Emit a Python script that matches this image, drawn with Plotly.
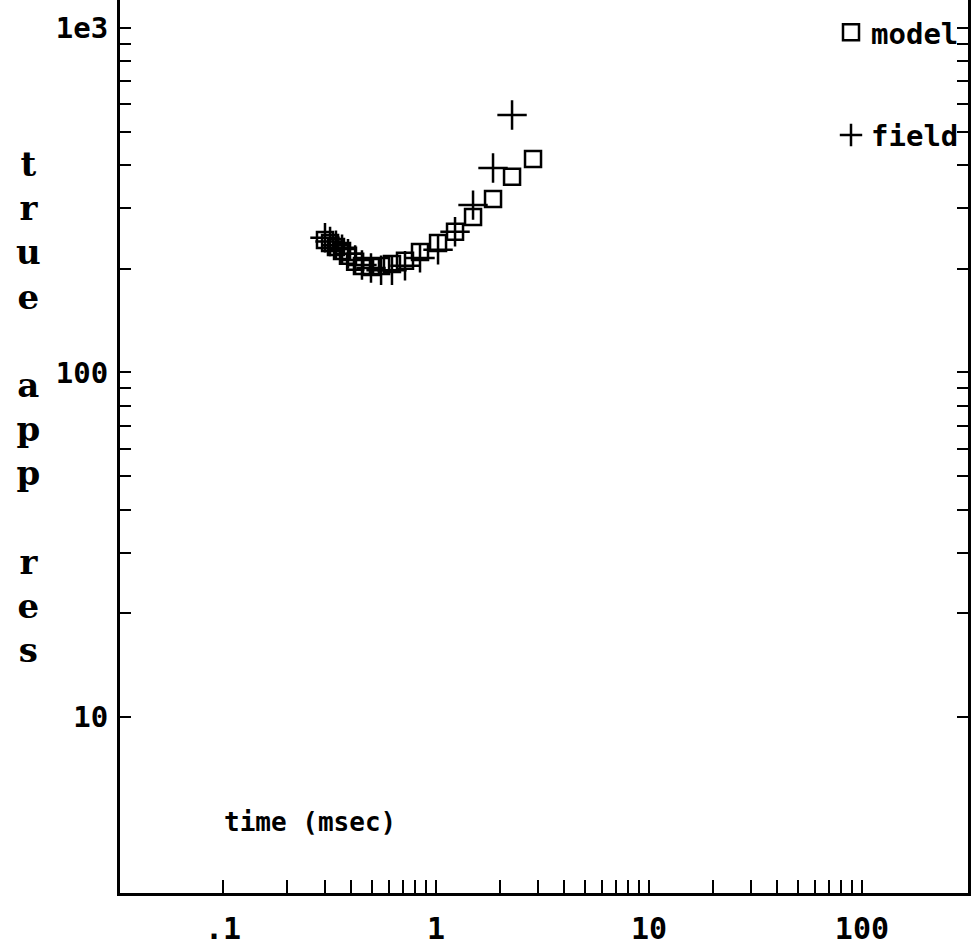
import plotly.graph_objects as go

# time gates (msec)
time_ms = [0.301, 0.318, 0.339, 0.362, 0.386, 0.417, 0.449, 0.495, 0.552,
           0.621, 0.715, 0.841, 1.022, 1.228, 1.492, 1.852, 2.275, 2.854]
# model apparent resistivity
model_res = [242.5, 237.6, 231.4, 225.3, 218.0, 209.4, 203.7, 202.3, 203.7,
             206.5, 210.8, 223.8, 237.6, 256.0, 282.7, 318.9, 369.5, 416.6]
# field apparent resistivity
field_res = [246, 240, 234, 228, 221, 212, 205, 201, 198,
             198, 204, 215, 227, 256, 306, 392, 559, 1238]

x_tickvals = [0.1, 0.2, 0.3, 0.4, 0.5, 0.6, 0.7, 0.8, 0.9,
              1, 2, 3, 4, 5, 6, 7, 8, 9,
              10, 20, 30, 40, 50, 60, 70, 80, 90, 100]
x_labels = {0.1: ".1", 1: "1", 10: "10", 100: "100"}
y_tickvals = [10, 20, 30, 40, 50, 60, 70, 80, 90,
              100, 200, 300, 400, 500, 600, 700, 800, 900, 1000]
y_labels = {10: "10", 100: "100", 1000: "1e3"}

mono = "DejaVu Sans Mono"

fig = go.Figure()
fig.add_trace(go.Scatter(
    x=time_ms, y=model_res, mode="markers", name="model",
    legendgroup="model", cliponaxis=False,
    marker=dict(symbol="square-open", size=16, color="black",
                line=dict(width=2.5, color="black")),
))
fig.add_trace(go.Scatter(
    x=time_ms, y=field_res, mode="markers", name="field",
    legendgroup="field", cliponaxis=False,
    marker=dict(symbol="cross-thin-open", size=21, color="black",
                line=dict(width=2.5, color="black")),
))

fig.update_layout(
    width=971, height=950,
    margin=dict(l=120, r=3, t=0, b=57, autoexpand=False),
    paper_bgcolor="white", plot_bgcolor="white",
    showlegend=True,
    legend=dict(x=1 - 4 / 848, y=1 - 7 / 893, xanchor="right", yanchor="top",
                bgcolor="rgba(0,0,0,0)", tracegroupgap=62,
                itemwidth=30,
                font=dict(family=mono, size=29, color="black", weight="bold")),
    xaxis=dict(
        type="log", range=[-1.484, 2.498], automargin=False,
        showgrid=False, zeroline=False,
        showline=True, linecolor="black", linewidth=3, mirror=False,
        ticks="inside", ticklen=13, tickwidth=2, tickcolor="black",
        tickvals=x_tickvals,
        ticktext=[x_labels.get(v, "") for v in x_tickvals],
        ticklabelstandoff=7,
        tickfont=dict(family=mono, size=30, color="black", weight="bold"),
    ),
    yaxis=dict(
        type="log", range=[0.489, 3.081], automargin=False,
        showgrid=False, zeroline=False,
        showline=True, linecolor="black", linewidth=3, mirror="ticks",
        ticks="inside", ticklen=11, tickwidth=2, tickcolor="black",
        tickvals=y_tickvals,
        ticktext=[y_labels.get(v, "") for v in y_tickvals],
        ticklabelstandoff=3,
        tickfont=dict(family=mono, size=29, color="black", weight="bold"),
    ),
)

fig.add_annotation(
    xref="paper", yref="paper", x=0.224, y=1 - 822 / 893,
    xanchor="center", yanchor="middle", showarrow=False,
    text="time (msec)",
    font=dict(family=mono, size=26, color="black", weight="bold"),
)
fig.add_annotation(
    xref="paper", yref="paper", x=(28 - 120) / 848, y=1 - 407 / 893,
    xanchor="center", yanchor="middle", showarrow=False,
    text="t<br>r<br>u<br>e<br> <br>a<br>p<br>p<br> <br>r<br>e<br>s",
    font=dict(family="DejaVu Serif", size=34, color="black", weight="bold"),
)

fig.write_html("out.html")
